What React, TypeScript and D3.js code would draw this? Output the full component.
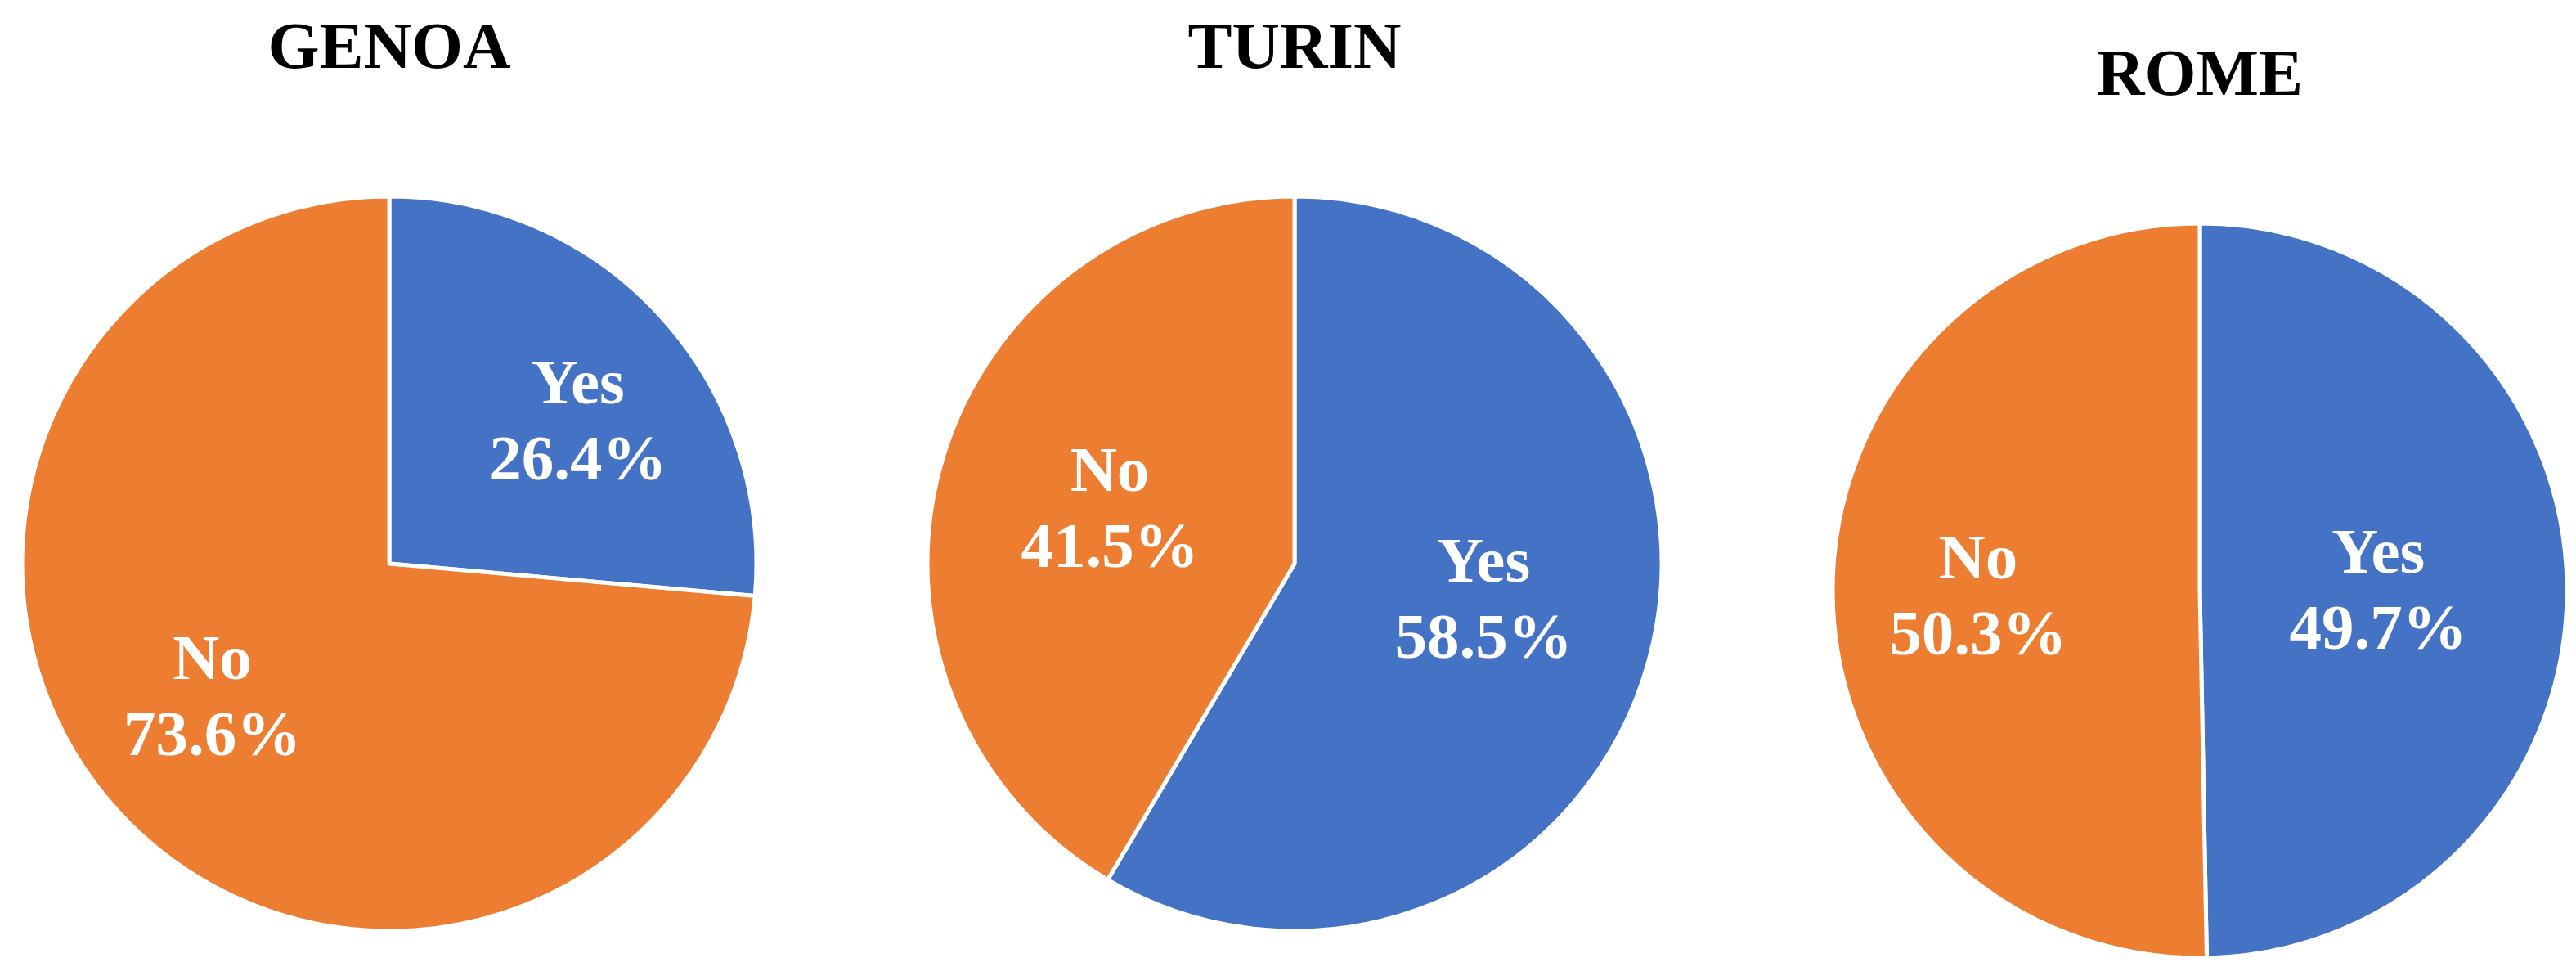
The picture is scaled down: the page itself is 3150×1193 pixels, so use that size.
import React from "react";
import * as d3 from "d3";

const cities = ["GENOA", "TURIN", "ROME"];
const categories = ["Yes", "No"];
const yesValues = [26.4, 58.5, 49.7];
const noValues = [73.6, 41.5, 50.3];

const W = 3150;
const H = 1193;
const R = 449;
const pieY = 689;
const titleGap = 606; // distance from title baseline to pie center
const verticalShift = [0, 0, 33];
// label placement tweaks (radius as fraction of R, angle nudge in degrees) per city, per category
const labelRadius = [[0.646, 0.601], [0.523, 0.526], [0.486, 0.604]];
const labelAngleNudge = [[5.2, 5.8], [-5.1, 1.6], [0, -0.5]];
const colors = d3.scaleOrdinal<string, string>().domain(categories).range(["#4472C4", "#ED7D31"]);
const FONT = "'Liberation Serif', 'Times New Roman', serif";

export default function App() {
  const x = d3.scalePoint<string>().domain(cities).range([476, 2690]);
  const pie = d3.pie<{ cat: string; v: number }>().value((d) => d.v).sort(null);
  const arc = d3.arc<d3.PieArcDatum<{ cat: string; v: number }>>().innerRadius(0).outerRadius(R);

  return (
    <svg width={W} height={H} style={{ position: "absolute", left: 0, top: 0, background: "#fff" }}>
      {cities.map((city, i) => {
        const cx = x(city) as number;
        const cy = pieY + verticalShift[i];
        const data = [
          { cat: categories[0], v: yesValues[i] },
          { cat: categories[1], v: noValues[i] },
        ];
        const arcs = pie(data);
        return (
          <g key={city}>
            <text
              x={cx}
              y={cy - titleGap}
              textAnchor="middle"
              fontFamily={FONT}
              fontWeight="bold"
              fontSize={81}
              fill="#000"
            >
              {city}
            </text>
            <g transform={`translate(${cx},${cy})`}>
              {arcs.map((a) => (
                <path key={a.data.cat} d={arc(a) || ""} fill={colors(a.data.cat)} stroke="#fff" strokeWidth={5} strokeLinejoin="round" />
              ))}
              {arcs.map((a, j) => {
                const ang = (a.startAngle + a.endAngle) / 2 + (labelAngleNudge[i][j] * Math.PI) / 180;
                const rr = R * labelRadius[i][j];
                const lx = rr * Math.sin(ang);
                const ly = -rr * Math.cos(ang);
                return (
                  <text
                    key={a.data.cat + "-l"}
                    x={lx}
                    y={ly}
                    textAnchor="middle"
                    fontFamily={FONT}
                    fontWeight="bold"
                    fontSize={79}
                    fill="#fff"
                  >
                    <tspan x={lx} dy={-20}>{a.data.cat}</tspan>
                    <tspan x={lx} dy={93}>{a.data.v.toFixed(1) + "%"}</tspan>
                  </text>
                );
              })}
            </g>
          </g>
        );
      })}
    </svg>
  );
}
